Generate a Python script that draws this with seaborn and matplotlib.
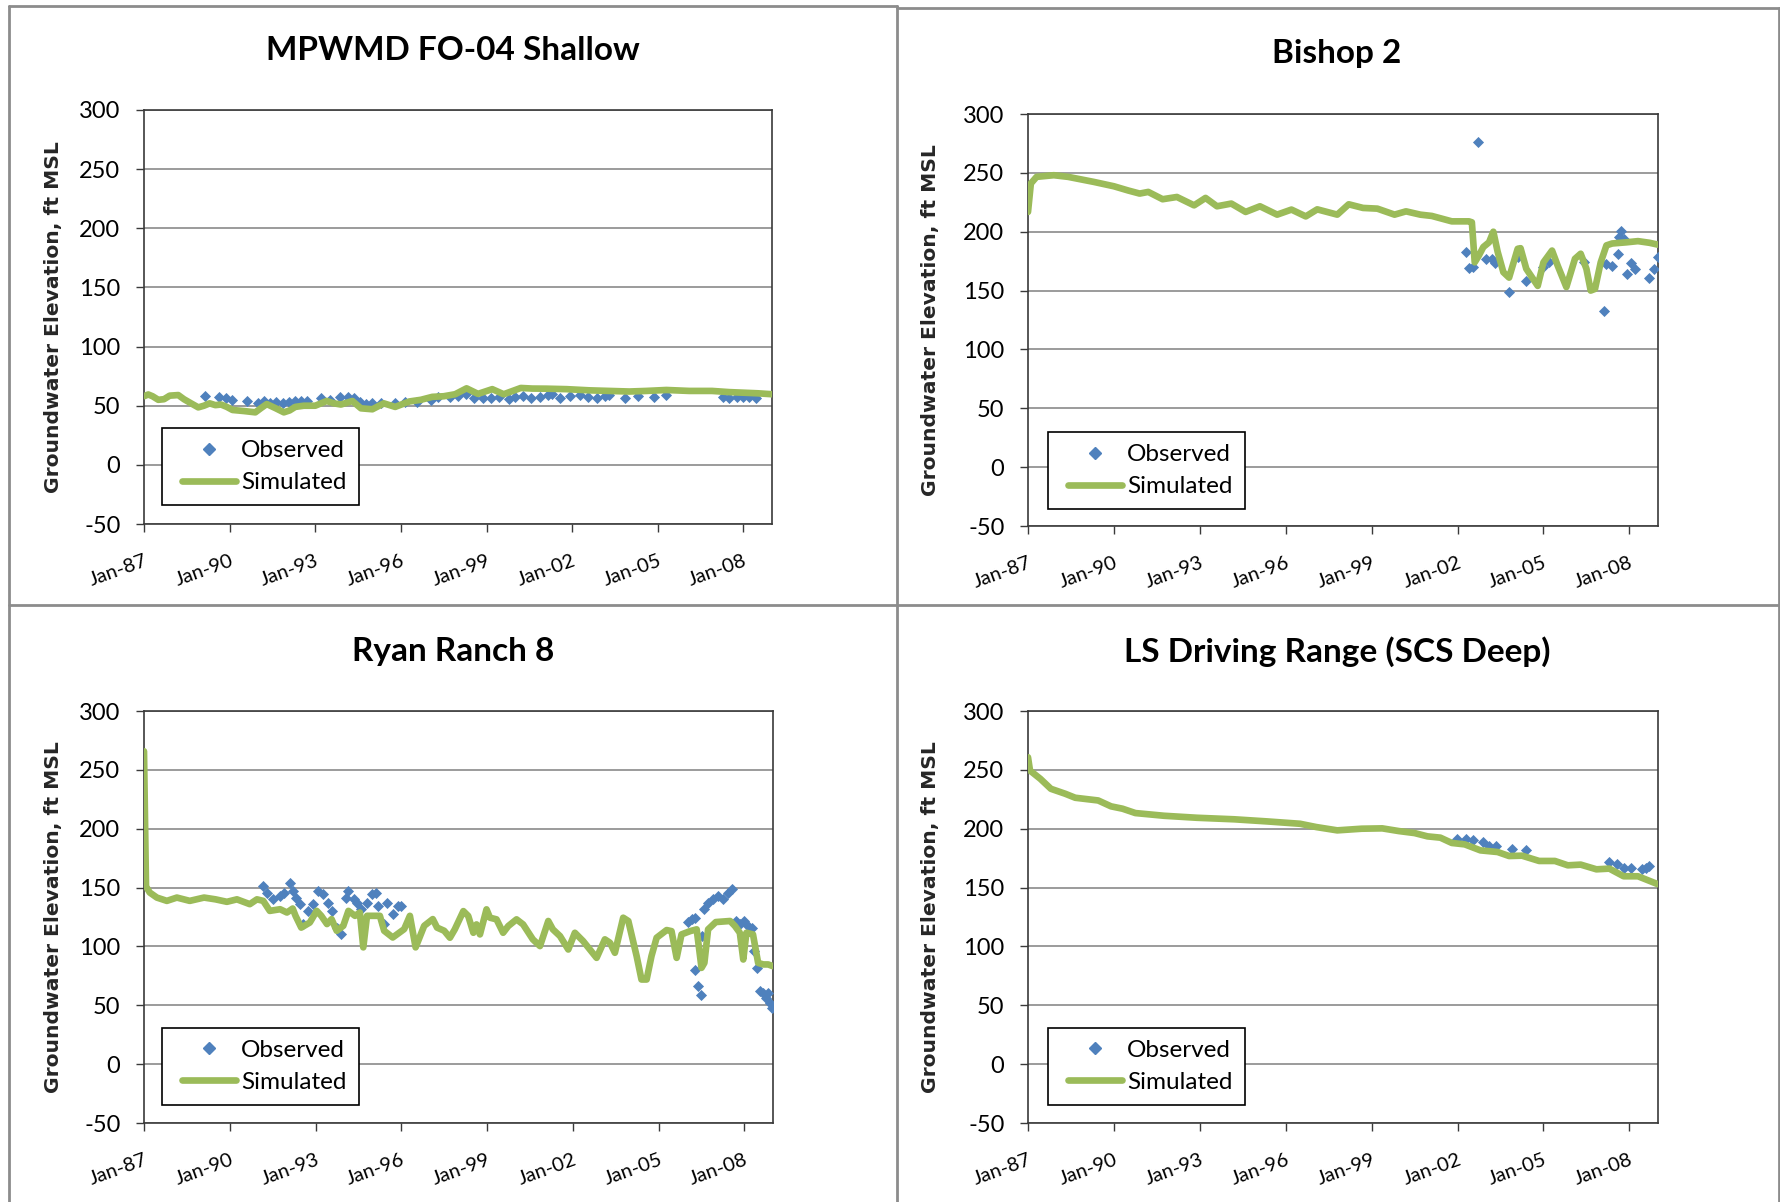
import numpy as np
import pandas as pd
import matplotlib
matplotlib.use("Agg")
import matplotlib.pyplot as plt
from matplotlib.lines import Line2D
from matplotlib.legend_handler import HandlerLine2D
import seaborn as sns

# ---------------- data ----------------
tick_years = [1987, 1990, 1993, 1996, 1999, 2002, 2005, 2008]
tick_labels = ["Jan-87", "Jan-90", "Jan-93", "Jan-96", "Jan-99", "Jan-02", "Jan-05", "Jan-08"]
y_ticks = [-50, 0, 50, 100, 150, 200, 250, 300]
titles = ["MPWMD FO-04 Shallow", "Bishop 2", "Ryan Ranch 8", "LS Driving Range (SCS Deep)"]
series_names = ["Observed", "Simulated"]
y_label = "Groundwater Elevation, ft MSL"

# MPWMD FO-04 Shallow
fo04_sim_year = [1987.0, 1987.15, 1987.3, 1987.5, 1987.7, 1987.9, 1988.2, 1988.4, 1988.65, 1988.9,
                 1989.1, 1989.3, 1989.5, 1989.7, 1989.9, 1990.1, 1990.5, 1990.9, 1991.1, 1991.3,
                 1991.6, 1991.9, 1992.1, 1992.3, 1992.6, 1993.0, 1993.4, 1993.65, 1993.9, 1994.3,
                 1994.6, 1995.0, 1995.4, 1995.8, 1996.3, 1996.7, 1997.1, 1997.5, 1997.9, 1998.3,
                 1998.7, 1999.2, 1999.6, 2000.2, 2000.6, 2001.1, 2001.8, 2002.6, 2003.3, 2004.0,
                 2004.6, 2005.3, 2006.1, 2006.9, 2007.5, 2008.0, 2008.5, 2009.0]
fo04_sim_elev = [58, 59.5, 58, 55, 55.5, 58.5, 59, 55.5, 52, 48.6,
                 50, 52, 50.5, 51, 49, 46.4, 45.5, 44.4, 48, 51.4,
                 48, 44.4, 46, 49, 50, 50, 54, 52, 51, 54,
                 47.8, 47, 52, 49, 53.6, 55, 57.5, 58, 59.7, 64.7,
                 60, 64, 59.7, 65, 64.5, 64.4, 64, 63, 62.5, 62,
                 62.5, 63.3, 62.5, 62.5, 61.5, 61, 60.5, 59.7]
fo04_obs_year = [1989.14, 1989.64, 1989.86, 1990.07, 1990.6, 1991.0, 1991.2, 1991.43, 1991.64, 1991.86,
                 1992.07, 1992.29, 1992.5, 1992.71, 1993.21, 1993.5, 1993.86, 1994.14, 1994.36, 1994.57,
                 1994.79, 1995.0, 1995.29, 1995.79, 1996.14, 1996.57, 1997.07, 1997.29, 1997.71, 1998.0,
                 1998.29, 1998.57, 1998.86, 1999.14, 1999.43, 1999.79, 2000.0, 2000.29, 2000.57, 2000.86,
                 2001.14, 2001.29, 2001.57, 2001.93, 2002.29, 2002.57, 2002.86, 2003.14, 2003.29, 2003.86,
                 2004.31, 2004.86, 2005.29, 2007.29, 2007.5, 2007.79, 2008.0, 2008.21, 2008.43]
fo04_obs_elev = [58.3, 57, 56.4, 54.7, 53.6, 52.2, 53.6, 52, 52.8, 52,
                 52.8, 53.6, 54.2, 54.2, 56.4, 54.7, 57, 57, 56.4, 52.8,
                 51.4, 52, 52, 52, 52.8, 52.8, 54.7, 57, 57.5, 58.3,
                 59.7, 56.4, 56.4, 56.4, 57, 55.6, 57, 58.3, 56.4, 57,
                 58.9, 59.7, 56.4, 58.3, 58.9, 57, 56.4, 58.3, 58.9, 56.4,
                 58.3, 57, 59.2, 57, 56.4, 57, 57, 57, 56.4]

# Bishop 2
bish_sim_year = [1987.0, 1987.1, 1987.3, 1987.9, 1988.4, 1989.3, 1990.0, 1990.5, 1990.9, 1991.2,
                 1991.7, 1992.2, 1992.8, 1993.2, 1993.6, 1994.1, 1994.6, 1995.1, 1995.7, 1996.2,
                 1996.7, 1997.1, 1997.8, 1998.2, 1998.7, 1999.2, 1999.8, 2000.2, 2000.7, 2001.1,
                 2001.8, 2002.4, 2002.5, 2002.6, 2002.75, 2002.9, 2003.1, 2003.25, 2003.4, 2003.6,
                 2003.8, 2004.1, 2004.2, 2004.4, 2004.8, 2005.0, 2005.3, 2005.5, 2005.8, 2006.1,
                 2006.3, 2006.5, 2006.65, 2006.8, 2007.0, 2007.2, 2007.4, 2007.9, 2008.3, 2008.7,
                 2009.0]
bish_sim_elev = [216.8, 241, 246.6, 248, 246.6, 242.3, 238.6, 235, 232.4, 233.8,
                 227.6, 229.5, 222.4, 228.7, 221.6, 223.9, 216.8, 221.6, 214.5, 218.8,
                 213, 219, 214.5, 223.3, 220.2, 219.6, 214.5, 217.3, 214.5, 213.4,
                 208.8, 208.8, 208, 174, 180, 187, 191, 200, 183, 165.6,
                 161, 185.5, 186, 168.5, 154, 174, 184, 171, 153, 177,
                 181.3, 168.5, 150, 151.4, 174, 188.4, 190, 191, 192, 190.6,
                 189]
bish_obs_year = [2002.3, 2002.4, 2002.55, 2002.7, 2003.0, 2003.2, 2003.3, 2003.8, 2004.1, 2004.4,
                 2005.0, 2005.2, 2006.4, 2007.1, 2007.2, 2007.4, 2007.6, 2007.65, 2007.7, 2007.8,
                 2007.9, 2008.05, 2008.2, 2008.7, 2008.85, 2009.0]
bish_obs_elev = [182.7, 169, 170, 276.4, 177, 176.4, 173.6, 148.6, 178.4, 158.5,
                 170, 174, 174, 132.4, 172.7, 170.7, 181, 195.5, 201, 194,
                 164, 173.6, 168, 160.5, 168, 178.4]

# Ryan Ranch 8
ryan_sim_year = [1987.0, 1987.07, 1987.2, 1987.45, 1987.8, 1988.15, 1988.6, 1989.1, 1989.5, 1989.9,
                 1990.25, 1990.7, 1990.95, 1991.17, 1991.4, 1991.76, 1992.0, 1992.2, 1992.3, 1992.5,
                 1992.8, 1993.04, 1993.2, 1993.4, 1993.56, 1993.74, 1993.97, 1994.15, 1994.38, 1994.55,
                 1994.67, 1994.8, 1995.0, 1995.25, 1995.4, 1995.7, 1996.1, 1996.3, 1996.5, 1996.8,
                 1997.1, 1997.25, 1997.5, 1997.7, 1997.87, 1998.17, 1998.34, 1998.52, 1998.63, 1998.75,
                 1998.98, 1999.1, 1999.33, 1999.56, 1999.74, 2000.03, 2000.26, 2000.6, 2000.85, 2001.14,
                 2001.3, 2001.55, 2001.84, 2002.07, 2002.36, 2002.83, 2003.12, 2003.3, 2003.47, 2003.76,
                 2003.94, 2004.23, 2004.4, 2004.58, 2004.75, 2004.93, 2005.28, 2005.45, 2005.63, 2005.8,
                 2006.1, 2006.33, 2006.5, 2006.6, 2006.73, 2007.0, 2007.5, 2007.67, 2007.84, 2007.96,
                 2008.07, 2008.3, 2008.48, 2008.66, 2008.83, 2009.0]
ryan_sim_elev = [265.8, 151, 145.8, 141.5, 138.7, 141.5, 138.7, 141.5, 140, 137.9,
                 140, 135.9, 140, 138.7, 130.2, 131.6, 128.8, 132.2, 126, 116,
                 120.3, 130.2, 126, 119, 123.2, 113.3, 117.5, 130.2, 126, 128.8,
                 99.2, 126, 126, 126, 113.3, 107.6, 114.7, 126, 99.2, 117.5,
                 123.2, 116, 113.3, 107.4, 114.5, 130, 125.9, 111.6, 118.7, 110.2,
                 131.5, 124.4, 123, 111.6, 117.3, 123, 118.7, 106, 100.3, 121.6,
                 114.5, 108.8, 97.4, 111.6, 104.5, 90.3, 106, 103.1, 94.6, 124.4,
                 121.6, 91.8, 71.9, 71.9, 91.8, 107.4, 113.9, 113, 90.3, 110.2,
                 113, 114.5, 81.8, 86, 114.5, 120.7, 121.6, 117.3, 111.6, 88.9,
                 111.6, 110.2, 86, 84.7, 84.7, 83.2]
ryan_obs_year = [1991.17, 1991.3, 1991.5, 1991.76, 1991.9, 1992.1, 1992.2, 1992.3, 1992.45, 1992.57,
                 1992.75, 1992.9, 1993.1, 1993.27, 1993.45, 1993.56, 1993.74, 1993.9, 1994.05, 1994.15,
                 1994.33, 1994.45, 1994.6, 1994.8, 1994.97, 1995.1, 1995.2, 1995.4, 1995.5, 1995.7,
                 1995.9, 1996.0,
                 2006.03, 2006.15, 2006.27, 2006.27, 2006.38, 2006.47, 2006.5, 2006.6, 2006.73, 2006.9,
                 2007.08, 2007.26, 2007.43, 2007.58, 2007.72, 2007.84, 2008.0, 2008.13, 2008.25, 2008.33,
                 2008.45, 2008.54, 2008.66, 2008.77, 2008.83, 2008.91, 2008.96]
ryan_obs_elev = [151.4, 145.8, 140, 143, 145.8, 153.7, 147, 141.5, 136, 119,
                 130.2, 136, 147, 144.4, 137.3, 130.2, 116, 110.5, 141.5, 147,
                 140, 137.3, 131.6, 137.3, 144.4, 145.8, 134.5, 119, 137.3, 127.4,
                 134.5, 134.5,
                 120.7, 123, 124.4, 79.8, 66.2, 59, 108.8, 131.5, 137.2, 140.6,
                 142.9, 140.6, 145.7, 148.6, 121.6, 118.7, 121.6, 117.3, 115.9, 96,
                 81.8, 62, 60.5, 56.3, 60.5, 52, 47.7]

# LS Driving Range (SCS Deep)
lsdr_sim_year = [1987.0, 1987.07, 1987.43, 1987.8, 1988.3, 1988.65, 1989.45, 1989.9, 1990.3, 1990.75,
                 1991.75, 1992.9, 1994.2, 1995.35, 1996.5, 1997.07, 1997.8, 1998.65, 1999.37, 1999.95,
                 2000.5, 2000.95, 2001.4, 2001.8, 2002.25, 2002.8, 2003.4, 2003.8, 2004.25, 2004.85,
                 2005.4, 2005.85, 2006.3, 2006.85, 2007.3, 2007.8, 2008.3, 2009.0]
lsdr_sim_elev = [260.7, 249.4, 242.4, 233.9, 229.7, 226.3, 224, 219, 217, 213.3,
                 211, 209.3, 208, 206.2, 204.2, 201.4, 198.6, 200, 200.3, 198,
                 196.3, 193.5, 192.4, 187.9, 186.7, 181.6, 180.2, 176.8, 177.1, 172.6,
                 172.6, 168.9, 169.5, 165.5, 166.1, 159.6, 159.6, 152.8]
lsdr_obs_year = [2001.97, 2002.3, 2002.55, 2002.9, 2003.1, 2003.33, 2003.9, 2004.38,
                 2007.3, 2007.58, 2007.83, 2008.05, 2008.45, 2008.58, 2008.7]
lsdr_obs_elev = [191, 191, 190.1, 188.4, 185.6, 185, 182.8, 182.2,
                 171.8, 169.8, 167, 166.7, 165.5, 167, 168.6]

# ---------------- style ----------------
OBS_COLOR = "#4F81BD"
SIM_COLOR = "#9BBB59"
sns.set_style("white")
plt.rcParams["font.family"] = ["Lato", "DejaVu Sans"]
plt.rcParams["text.color"] = "black"
plt.rcParams["xtick.color"] = "black"
plt.rcParams["ytick.color"] = "black"

W, H = 1781, 1202
fig = plt.figure(figsize=(W / 100, H / 100), dpi=100)
fig.patch.set_facecolor("white")

def fx(px):
    return px / W

def fy(py):
    return 1 - py / H

# axes rectangles in pixels: left, top, right, bottom
rects = [(144, 110, 772, 524), (1028, 114, 1658, 526),
         (144, 711, 773, 1123), (1028, 711, 1658, 1123)]
title_pos = [(453, 51), (1337, 53), (453, 652), (1337, 652)]
legend_anchor = [(0.029, 0.232), (0.032, 0.228), (0.029, 0.231), (0.032, 0.231)]
ylabel_x = [-0.129, -0.140, -0.129, -0.140]

panels = [
    (fo04_sim_year, fo04_sim_elev, fo04_obs_year, fo04_obs_elev),
    (bish_sim_year, bish_sim_elev, bish_obs_year, bish_obs_elev),
    (ryan_sim_year, ryan_sim_elev, ryan_obs_year, ryan_obs_elev),
    (lsdr_sim_year, lsdr_sim_elev, lsdr_obs_year, lsdr_obs_elev),
]

LEG_FS = 17.5
for i, (sy, se, oy, oe) in enumerate(panels):
    l, t, r, b = rects[i]
    ax = fig.add_axes([fx(l), fy(b), (r - l) / W, (b - t) / H])
    ax.set_facecolor("white")
    sim_df = pd.DataFrame({"year": sy, "elev": se})
    obs_df = pd.DataFrame({"year": oy, "elev": oe})
    sns.scatterplot(data=obs_df, x="year", y="elev", ax=ax, marker="D", s=32,
                    color=OBS_COLOR, edgecolor=OBS_COLOR, linewidth=0, zorder=3, legend=False)
    sns.lineplot(data=sim_df, x="year", y="elev", ax=ax, color=SIM_COLOR, lw=4.8,
                 estimator=None, sort=False, zorder=4, legend=False)
    ax.set_xlim(1987, 2009)
    ax.set_ylim(-50, 300)
    ax.set_yticks(y_ticks)
    ax.set_yticklabels([str(v) for v in y_ticks], fontsize=17)
    ax.set_xticks(tick_years)
    ax.set_xticklabels(tick_labels, fontsize=14.5, rotation=20, ha="right",
                       rotation_mode="anchor")
    ax.grid(axis="y", color="#8a8a8a", lw=1.2)
    ax.grid(axis="x", visible=False)
    ax.set_axisbelow(True)
    for sp in ax.spines.values():
        sp.set_color("#3a3a3a")
        sp.set_linewidth(1.2)
        sp.set_visible(True)
    ax.tick_params(axis="y", direction="out", length=6, width=1, color="#3a3a3a", pad=11, left=True)
    ax.tick_params(axis="x", direction="out", length=6, width=1, color="#3a3a3a", pad=14, bottom=True)
    ax.set_xlabel("")
    ax.set_ylabel(y_label, fontsize=14.6, fontweight="bold", family="DejaVu Sans")
    ax.yaxis.set_label_coords(ylabel_x[i], 0.5)
    handles = [Line2D([], [], marker="D", ls="none", color=OBS_COLOR, markersize=5.8),
               Line2D([], [], color=SIM_COLOR, lw=4.8)]
    leg = ax.legend(handles, series_names, loc="upper left", bbox_to_anchor=legend_anchor[i],
                    borderaxespad=0, frameon=True, fancybox=False, framealpha=1,
                    edgecolor="black", fontsize=LEG_FS, handlelength=2.55, handletextpad=0.2,
                    labelspacing=0.45, borderpad=0.5,
                    handler_map={Line2D: HandlerLine2D(xpad=0.3)})
    leg.get_frame().set_linewidth(1.2)
    fig.text(fx(title_pos[i][0]), fy(title_pos[i][1]), titles[i], ha="center", va="center",
             fontsize=24, fontweight="bold")

# chart-area borders
border = dict(color="#8c8c8c", lw=2, transform=fig.transFigure)
segs = [((9, 6), (897, 6)), ((897, 8), (1779, 8)), ((9, 6), (9, 1202)),
        ((897, 6), (897, 1202)), ((9, 605), (1779, 605)), ((1779, 8), (1779, 1202))]
for (x0, y0), (x1, y1) in segs:
    fig.add_artist(Line2D([fx(x0), fx(x1)], [fy(y0), fy(y1)], **border))

fig.savefig("out.png", dpi=100, facecolor="white")
